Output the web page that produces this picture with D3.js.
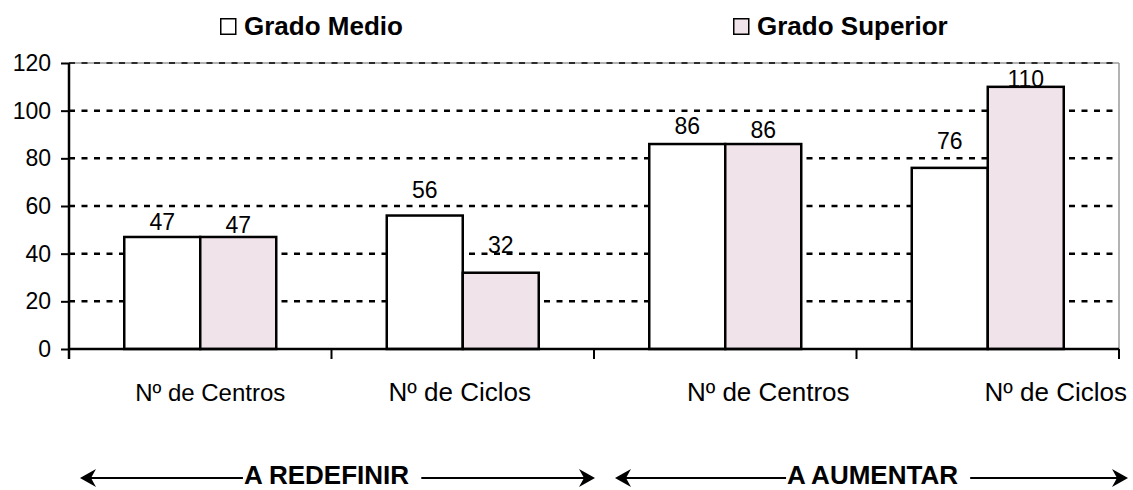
<!DOCTYPE html>
<html>
<head>
<meta charset="utf-8">
<script src="https://cdn.jsdelivr.net/npm/d3@7"></script>
<style>
  html, body { margin: 0; padding: 0; background: #fff; }
  svg { display: block; font-family: "Liberation Sans", Arial, sans-serif; }
</style>
</head>
<body>
<svg id="chart" width="1133" height="490"></svg>
<script>
// ---- data ----
const categories = ["Nº de Centros", "Nº de Ciclos", "Nº de Centros", "Nº de Ciclos"];
const seriesNames = ["Grado Medio", "Grado Superior"];
const gradoMedio = [47, 56, 86, 76];
const gradoSuperior = [47, 32, 86, 110];
const yTicks = [0, 20, 40, 60, 80, 100, 120];
const sectionLabels = ["A REDEFINIR", "A AUMENTAR"];

// ---- layout / style ----
const W = 1133, H = 490;
const plot = { left: 69, right: 1119, top: 63, bottom: 349 };
const colors = { "Grado Medio": "#ffffff", "Grado Superior": "#f1e3ea" };
const labelGap = { "Grado Medio": [7, 18, 10, 19], "Grado Superior": [4, 20, 6, 0] };
const catLabelDx = [10, -3, 43, 68];
const catLabelSize = [24, 26, 26, 26];

const svg = d3.select("#chart");

const x0 = d3.scaleBand().domain(d3.range(categories.length))
  .range([plot.left, plot.right]).paddingInner(0).paddingOuter(0);
const x1 = d3.scaleBand().domain(seriesNames)
  .range([0, x0.bandwidth()]).paddingInner(0).paddingOuter(0.727);
const y = d3.scaleLinear().domain([0, 120]).range([plot.bottom, plot.top]);

const values = { "Grado Medio": gradoMedio, "Grado Superior": gradoSuperior };

// plot-area border (gray) on top and right
svg.append("line").attr("x1", plot.left).attr("x2", plot.right)
  .attr("y1", y(120)).attr("y2", y(120)).attr("stroke", "#9a9a9a").attr("stroke-width", 1.5);
svg.append("line").attr("x1", plot.right).attr("x2", plot.right)
  .attr("y1", y(120)).attr("y2", y(0)).attr("stroke", "#9a9a9a").attr("stroke-width", 1.5);

// gridlines
svg.append("g").selectAll("line").data(yTicks.filter(t => t > 0)).join("line")
  .attr("x1", plot.left).attr("x2", plot.right)
  .attr("y1", d => y(d)).attr("y2", d => y(d))
  .attr("stroke", "#000").attr("stroke-width", d => d === 120 ? 1.5 : 2.5)
  .attr("stroke-dasharray", "6,6.5");

// bars
const groups = svg.append("g").selectAll("g").data(d3.range(categories.length)).join("g")
  .attr("transform", i => `translate(${x0(i)},0)`);
groups.selectAll("rect").data(i => seriesNames.map(s => ({ s, v: values[s][i], i }))).join("rect")
  .attr("x", d => x1(d.s)).attr("width", x1.bandwidth())
  .attr("y", d => y(d.v)).attr("height", d => y(0) - y(d.v))
  .attr("fill", d => colors[d.s]).attr("stroke", "#000").attr("stroke-width", 2.5);

// data labels
groups.selectAll("text").data(i => seriesNames.map(s => ({ s, v: values[s][i], i }))).join("text")
  .attr("x", d => x1(d.s) + x1.bandwidth() / 2)
  .attr("y", d => y(d.v) - labelGap[d.s][d.i])
  .attr("text-anchor", "middle").attr("font-size", 23).attr("fill", "#000")
  .text(d => d.v);

// y axis
const yAxis = d3.axisLeft(y).tickValues(yTicks).tickSize(8).tickPadding(10);
const gy = svg.append("g").attr("transform", `translate(${plot.left},0)`).call(yAxis);
gy.select(".domain").attr("stroke", "#000").attr("stroke-width", 2.5)
  .attr("d", `M0,${plot.top}V${plot.bottom + 10}`);
gy.selectAll(".tick line").attr("stroke", "#000").attr("stroke-width", 2);
gy.selectAll(".tick text").attr("font-size", 23).attr("fill", "#000")
  .attr("font-family", "Liberation Sans, Arial, sans-serif");

// x axis baseline and tick marks at group boundaries
svg.append("line").attr("x1", plot.left).attr("x2", plot.right)
  .attr("y1", y(0)).attr("y2", y(0)).attr("stroke", "#000").attr("stroke-width", 2.5);
const bounds = d3.range(categories.length + 1).map(i => i < categories.length ? x0(i) : plot.right);
svg.append("g").selectAll("line").data(bounds).join("line")
  .attr("x1", d => d).attr("x2", d => d)
  .attr("y1", y(0)).attr("y2", y(0) + 10)
  .attr("stroke", "#000").attr("stroke-width", 2);

// category labels
svg.append("g").selectAll("text").data(categories).join("text")
  .attr("x", (d, i) => x0(i) + x0.bandwidth() / 2 + catLabelDx[i])
  .attr("y", 401)
  .attr("text-anchor", "middle").attr("font-size", (d, i) => catLabelSize[i]).attr("fill", "#000")
  .text(d => d);

// legend
const legendX = [220, 733];
const lg = svg.append("g").selectAll("g").data(seriesNames).join("g")
  .attr("transform", (d, i) => `translate(${legendX[i]},18)`);
lg.append("rect").attr("x", 0.75).attr("y", 0.75).attr("width", 15).attr("height", 15.5)
  .attr("fill", d => colors[d]).attr("stroke", "#000").attr("stroke-width", 1.5);
lg.append("text").attr("x", 24).attr("y", 17)
  .attr("font-size", 26).attr("font-weight", "bold").attr("fill", "#000")
  .text(d => d);

// section arrows
const arrowY = 478;
const sections = [
  { label: sectionLabels[0], x1: x0(0) + 11, x2: x0(2) + 1, tx: (x0(0) + x0(2)) / 2 - 5 },
  { label: sectionLabels[1], x1: x0(2) + 21, x2: plot.right + 9, tx: (x0(2) + plot.right) / 2 + 16 }
];
const sg = svg.append("g").selectAll("g").data(sections).join("g");
sg.append("line").attr("x1", d => d.x1 + 8).attr("x2", d => d.x2 - 8)
  .attr("y1", arrowY).attr("y2", arrowY).attr("stroke", "#000").attr("stroke-width", 2);
sg.append("path")
  .attr("d", d => `M${d.x1},${arrowY}L${d.x1 + 16},${arrowY - 9}L${d.x1 + 11},${arrowY}L${d.x1 + 16},${arrowY + 9}Z`)
  .attr("fill", "#000");
sg.append("path")
  .attr("d", d => `M${d.x2},${arrowY}L${d.x2 - 16},${arrowY - 9}L${d.x2 - 11},${arrowY}L${d.x2 - 16},${arrowY + 9}Z`)
  .attr("fill", "#000");
const st = sg.append("text").attr("x", d => d.tx).attr("y", 484)
  .attr("text-anchor", "middle").attr("font-size", 26).attr("font-weight", "bold")
  .attr("fill", "#000").text(d => d.label);
// white box behind section text to break the line
st.each(function() {
  const b = this.getBBox();
  d3.select(this.parentNode).insert("rect", "text")
    .attr("x", b.x - 1).attr("y", arrowY - 3).attr("width", b.width + 13).attr("height", 6)
    .attr("fill", "#fff");
});
</script>
</body>
</html>
